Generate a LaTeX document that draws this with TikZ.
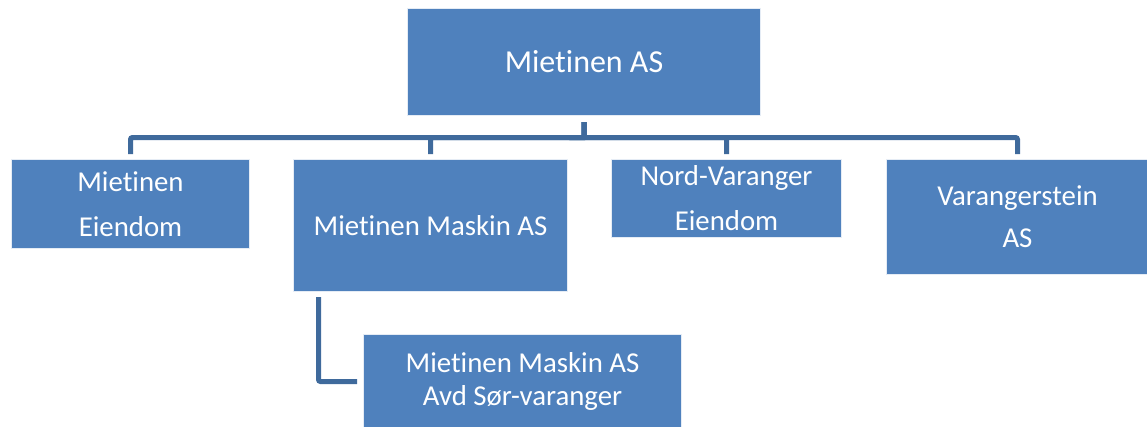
\documentclass[tikz,border=0pt]{standalone}
\usepackage{fontspec}
\setmainfont{Carlito}[RawFeature={-liga;-calt;-dlig;-clig}]
\definecolor{boxblue}{HTML}{4F81BD}
\definecolor{linkblue}{HTML}{3F6A9C}
\begin{document}
\begin{tikzpicture}[x=1pt,y=-1pt,
  orgbox/.style={draw=white!85!boxblue, line width=1pt, fill=boxblue, text=white, anchor=north west, inner sep=0pt, align=center},
  conn/.style={draw=linkblue, line width=5pt, rounded corners=2pt},
  txt/.style={font=\fontsize{28.8}{45}\selectfont}
]
\useasboundingbox (0,0) rectangle (1147,426);
\node[orgbox, minimum width=353pt, minimum height=107pt, font=\fontsize{32}{38}\selectfont] (top) at (407,8) {Mietinen AS};
\node[orgbox, txt, minimum width=238pt, minimum height=89pt] (eien) at (11,159) {Mietinen\\Eiendom};
\node[orgbox, txt, minimum width=274pt, minimum height=132pt] (mask) at (293,159) {Mietinen Maskin AS};
\node[orgbox, txt, minimum width=230pt, minimum height=78pt] (nord) at (611,159) {Nord-Varanger\\Eiendom};
\node[orgbox, font=\fontsize{28.8}{42}\selectfont, minimum width=262pt, minimum height=115pt] (vara) at (886,159) {Varangerstein\\AS};
\node[orgbox, font=\fontsize{28.8}{33}\selectfont, minimum width=318pt, minimum height=94pt] (sub) at (363,334) {Mietinen Maskin AS\\Avd Sør-varanger};
\coordinate (bus) at (583,137.5);
\foreach \c in {eien,mask,nord,vara}{
  \draw[conn] ([yshift=-6pt]top.south) |- (bus) -| ([yshift=5pt]\c.north);
}
\draw[conn] ([xshift=-112pt,yshift=-5pt]mask.south) |- ([xshift=-6pt]sub.west);
\end{tikzpicture}
\end{document}
